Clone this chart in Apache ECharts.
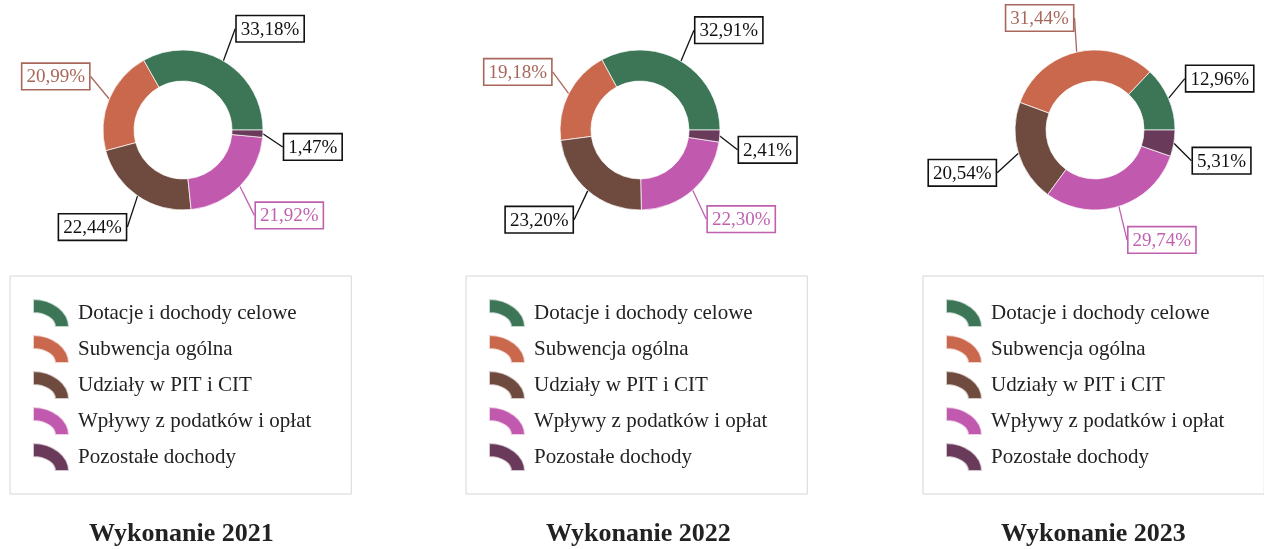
<!DOCTYPE html>
<html>
<head>
<meta charset="utf-8">
<script src="https://cdn.jsdelivr.net/npm/echarts@6/dist/echarts.min.js"></script>
<style>
html,body{margin:0;padding:0;background:#fff;}
#chart{width:1264px;height:549px;}
</style>
</head>
<body>
<div id="chart"></div>
<script>
// ---- data ----
const categories = ['Dotacje i dochody celowe', 'Subwencja ogólna', 'Udziały w PIT i CIT', 'Wpływy z podatków i opłat', 'Pozostałe dochody'];
const years = ['Wykonanie 2021', 'Wykonanie 2022', 'Wykonanie 2023'];
const values2021 = [33.18, 20.99, 22.44, 21.92, 1.47];
const values2022 = [32.91, 19.18, 23.20, 22.30, 2.41];
const values2023 = [12.96, 31.44, 20.54, 29.74, 5.31];

// ---- styles ----
const colors = ['#3c7657', '#c9684d', '#6f4a3e', '#c15aae', '#6a3a5a'];
const labelColors = ['#111', '#a8675a', '#111', '#c061b0', '#111'];
const centersX = [183, 640, 1095];
const centerY = 130;
const legendLeft = [10, 466, 923];
const titleLeft = [84, 541, 996];
// label nudges (dx, dy) relative to the automatic outside position
const labelShift = [
  [[6, -15], [-2, -14], [0, 18], [5, 18], [5, 14]],
  [[7, -14], [0, -12], [-2, 17], [5, 17], [3, 14]],
  [[3, -11], [2, -15], [-4, 16], [6, 18], [3, 16]]
];
const serif = '"Liberation Serif", "DejaVu Serif", serif';
const arcIcon = 'path://M0,0 A36,28 0 0 1 36,28 L22,28 A22,14 0 0 0 0,14 Z';

const allValues = [values2021, values2022, values2023];

function fmt(v) { return v.toFixed(2).replace('.', ',') + '%'; }

const series = allValues.map((vals, k) => ({
  type: 'pie',
  center: [centersX[k], centerY],
  radius: [49, 80],
  startAngle: 0,
  clockwise: false,
  avoidLabelOverlap: false,
  itemStyle: { borderColor: 'rgba(255,255,255,0.7)', borderWidth: 1 },
  label: {
    show: true,
    position: 'outside',
    formatter: p => fmt(p.value),
    fontFamily: serif,
    fontSize: 19,
    backgroundColor: '#fff',
    borderWidth: 1.6,
    padding: [4, 4, 2, 4],
    distanceToLabelLine: 0
  },
  labelLine: { show: true, length: 18, length2: 0, lineStyle: { color: '#111', width: 1.3 } },
  labelLayout: p => {
    const s = labelShift[k][p.dataIndex];
    const r = p.labelRect;
    return { x: r.x + s[0], y: r.y + s[1], align: 'left', verticalAlign: 'top' };
  },
  emphasis: { disabled: true },
  data: categories.map((c, i) => ({
    name: c,
    value: vals[i],
    itemStyle: { color: colors[i] },
    label: { color: labelColors[i], borderColor: labelColors[i] },
    labelLine: { lineStyle: { color: labelColors[i] } }
  }))
}));

const legends = legendLeft.map(l => ({
  left: l,
  top: 276,
  orient: 'vertical',
  data: categories,
  icon: arcIcon,
  itemWidth: 36,
  itemHeight: 28,
  itemGap: 6,
  padding: [22, 40, 22, 22],
  borderColor: '#d6d6d6',
  borderWidth: 1,
  selectedMode: false,
  textStyle: { fontFamily: serif, fontSize: 21, color: '#222', padding: [0, 0, 0, 4] }
}));

const titles = years.map((t, k) => ({
  text: t,
  left: titleLeft[k],
  top: 516,
  textStyle: { fontFamily: serif, fontSize: 26, fontWeight: 'bold', color: '#222' }
}));

const chart = echarts.init(document.getElementById('chart'));
chart.setOption({
  backgroundColor: '#fff',
  animation: false,
  title: titles,
  legend: legends,
  series: series
});
</script>
</body>
</html>
